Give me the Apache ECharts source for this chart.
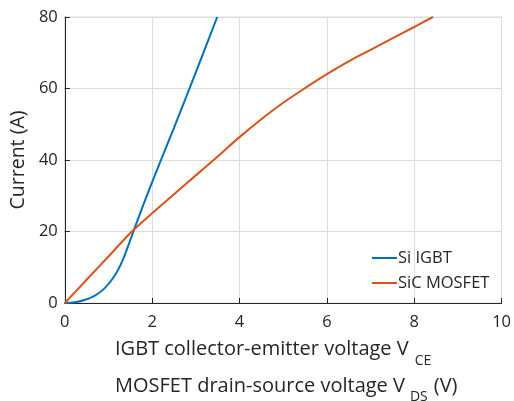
<!DOCTYPE html>
<html><head><meta charset="utf-8">
<script src="https://cdn.jsdelivr.net/npm/echarts@6/dist/echarts.min.js"></script>
<style>html,body{margin:0;padding:0;background:#fff}#c{width:514px;height:401px}</style>
</head><body><div id="c"></div>
<script>
const seriesNames = ['Si IGBT', 'SiC MOSFET'];
const igbtV = [0, 0.23, 0.45, 0.68, 0.91, 1.13, 1.32, 1.47, 1.6, 1.8, 2.0, 2.5, 3.0, 3.49];
const igbtI = [0, 0.2, 0.85, 2.0, 4.1, 7.4, 11.8, 16.6, 21, 27.5, 33.8, 49, 64.5, 80];
const mosV = [0, 0.5, 1.0, 1.535, 2.0, 2.5, 3.0, 3.5, 4.0, 4.5, 5.0, 5.5, 6.0, 6.5, 7.0, 7.5, 8.0, 8.43];
const mosI = [0, 6.5, 13.0, 20, 25.1, 30.4, 35.7, 41.0, 46.4, 51.4, 56.0, 60.1, 64.0, 67.6, 70.8, 74.0, 77.2, 80];
const xTicks = [0, 2, 4, 6, 8, 10];
const yTicks = [0, 20, 40, 60, 80];
const xTitle1 = ['IGBT collector-emitter voltage V', 'CE'];
const xTitle2 = ['MOSFET drain-source voltage V', 'DS', '(V)'];

const FONT = 'Open Sans';
const TXT = '#262626';
const ctx = document.createElement('canvas').getContext('2d');
function tw(t, size) { ctx.font = size + 'px "' + FONT + '"'; return ctx.measureText(t).width; }
const TS = 20, SS = 14, X0 = 115;
const w1 = tw(xTitle1[0], TS), w2 = tw(xTitle2[0], TS), wds = tw(xTitle2[1], SS);

const chart = echarts.init(document.getElementById('c'));
chart.setOption({
  animation: false,
  textStyle: {fontFamily: FONT},
  grid: {left: 64, right: 9, top: 17, bottom: 98, show: true, borderColor: '#dcdcdc', borderWidth: 1},
  legend: {
    orient: 'vertical', left: 372, top: 249, padding: 0, itemWidth: 25, itemHeight: 2, itemGap: 7,
    icon: 'rect',
    data: seriesNames,
    textStyle: {fontSize: 16.5, lineHeight: 18, color: TXT, fontFamily: FONT, padding: [0,0,0,-4]}
  },
  xAxis: {
    type: 'value', min: xTicks[0], max: xTicks[xTicks.length-1], interval: 2,
    axisLine: {lineStyle: {color: '#262626', width: 1}},
    axisTick: {inside: true, length: 5, lineStyle: {color: '#262626'}},
    axisLabel: {fontSize: 16.5, color: TXT, margin: 11, fontFamily: FONT},
    splitLine: {show: true, lineStyle: {color: '#dcdcdc'}}
  },
  yAxis: {
    type: 'value', min: yTicks[0], max: yTicks[yTicks.length-1], interval: 20,
    name: 'Current (A)', nameLocation: 'middle', nameGap: 36,
    nameTextStyle: {fontSize: 19.5, color: TXT, fontFamily: FONT},
    axisLine: {show: true, lineStyle: {color: '#262626', width: 1}},
    axisTick: {show: true, inside: true, length: 5, lineStyle: {color: '#262626'}},
    axisLabel: {fontSize: 16.5, color: TXT, margin: 7, fontFamily: FONT},
    splitLine: {show: true, lineStyle: {color: '#dcdcdc'}}
  },
  graphic: [
    {type: 'text', left: X0, top: 339, style: {text: xTitle1[0], fontSize: TS, fill: TXT, fontFamily: FONT}},
    {type: 'text', left: X0 + w1 + 6, top: 354, style: {text: xTitle1[1], fontSize: SS, fill: TXT, fontFamily: FONT}},
    {type: 'text', left: X0, top: 376, style: {text: xTitle2[0], fontSize: TS, fill: TXT, fontFamily: FONT}},
    {type: 'text', left: X0 + w2 + 5, top: 390, style: {text: xTitle2[1], fontSize: SS, fill: TXT, fontFamily: FONT}},
    {type: 'text', left: X0 + w2 + 5 + wds + 6, top: 376, style: {text: xTitle2[2], fontSize: TS, fill: TXT, fontFamily: FONT}}
  ],
  series: [
    {name: seriesNames[0], type: 'line', symbol: 'none', smooth: 0.3, color: '#0072BD',
     lineStyle: {width: 2}, data: igbtV.map((v, i) => [v, igbtI[i]])},
    {name: seriesNames[1], type: 'line', symbol: 'none', smooth: 0.3, color: '#D95319',
     lineStyle: {width: 2}, data: mosV.map((v, i) => [v, mosI[i]])}
  ]
});
</script></body></html>
